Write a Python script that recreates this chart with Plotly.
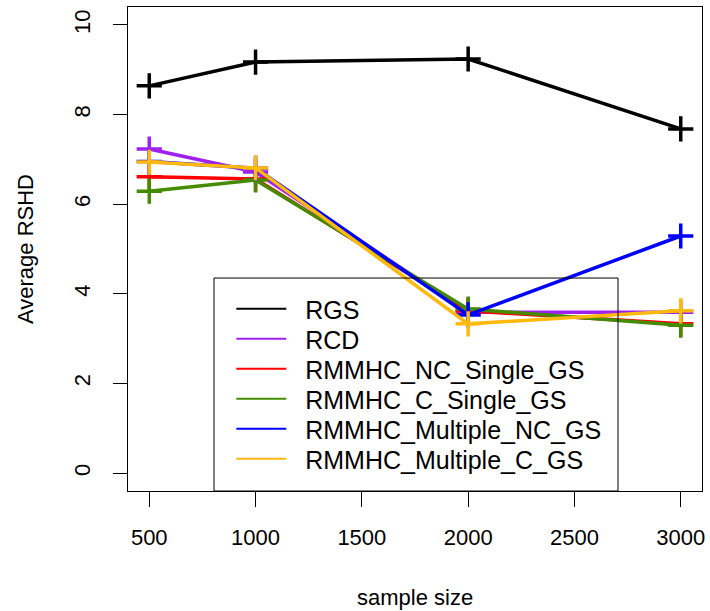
import plotly.graph_objects as go

# sample sizes and average RSHD per method
sample_size = [500, 1000, 2000, 3000]
rgs = [8.64, 9.17, 9.24, 7.68]
rcd = [7.23, 6.72, 3.59, 3.59]
nc_single = [6.61, 6.56, 3.62, 3.33]
c_single = [6.29, 6.54, 3.66, 3.30]
multiple_nc = [6.95, 6.80, 3.53, 5.29]
multiple_c = [6.94, 6.81, 3.33, 3.62]

names = ["RGS", "RCD", "RMMHC_NC_Single_GS", "RMMHC_C_Single_GS",
         "RMMHC_Multiple_NC_GS", "RMMHC_Multiple_C_GS"]
series = [rgs, rcd, nc_single, c_single, multiple_nc, multiple_c]
colors = ["#000000", "#A020F0", "#FF0000", "#458B00", "#0000FF", "#FFB90F"]

x_ticks = [500, 1000, 1500, 2000, 2500, 3000]
y_ticks = [0, 2, 4, 6, 8, 10]

FONT = "Liberation Sans, Arial, Helvetica, sans-serif"
PLOT_L, PLOT_W, PLOT_H = 128, 574, 484  # plot area in px

fig = go.Figure()
legends = {}
for i, (name, ys, col) in enumerate(zip(names, series, colors)):
    lg = "legend" if i == 0 else f"legend{i + 1}"
    # thin copy only feeds the legend key; the thick line sits on top of it
    fig.add_trace(go.Scatter(x=sample_size, y=ys, mode="lines",
                             name="\u00a0\u00a0" + name, legend=lg,
                             line=dict(color=col, width=2)))
    fig.add_trace(go.Scatter(x=sample_size, y=ys, mode="lines", showlegend=False,
                             line=dict(color=col, width=3.5)))
    fig.add_trace(go.Scatter(x=sample_size, y=ys, mode="markers", showlegend=False,
                             marker=dict(symbol="cross-thin", size=18,
                                         line=dict(color=col, width=3.5))))
    # one legend per entry so rows sit 30px apart like R's legend()
    row_y = 309 + 30 * i
    legends[lg] = dict(x=0.18, y=(491 - row_y) / PLOT_H, xanchor="left",
                       yanchor="middle", bgcolor="rgba(0,0,0,0)", borderwidth=0,
                       font=dict(size=25), itemwidth=50)

# legend frame (R-style box reaching down to the axis)
fig.add_shape(type="rect", xref="paper", yref="paper",
              x0=(214 - PLOT_L) / PLOT_W, x1=(618 - PLOT_L) / PLOT_W, y0=0, y1=0.44,
              line=dict(color="black", width=1), layer="above")

fig.add_annotation(text="sample size", xref="paper", yref="paper",
                   x=0.5, y=(491 - 597) / PLOT_H, xanchor="center", yanchor="middle",
                   showarrow=False, font=dict(size=22, color="black"))
fig.add_annotation(text="Average RSHD", xref="paper", yref="paper",
                   x=(25 - PLOT_L) / PLOT_W, y=0.5, xanchor="center", yanchor="middle",
                   showarrow=False, textangle=-90, font=dict(size=22, color="black"))

fig.update_layout(
    width=710, height=611,
    margin=dict(l=PLOT_L, r=8, t=7, b=120, autoexpand=False),
    paper_bgcolor="white", plot_bgcolor="white",
    font=dict(family=FONT, size=22, color="black"),
    showlegend=True,
    xaxis=dict(range=[400, 3100], tickvals=x_ticks, ticks="outside", ticklen=15,
               tickcolor="black", showline=True, linecolor="black", linewidth=1,
               mirror=True, showgrid=False, zeroline=False, ticklabelstandoff=12,
               automargin=False),
    yaxis=dict(range=[-0.4, 10.4], tickvals=y_ticks, ticks="outside", ticklen=14,
               tickcolor="black", showline=True, linecolor="black", linewidth=1,
               mirror=True, showgrid=False, zeroline=False, tickangle=-90,
               ticklabelstandoff=14, automargin=False),
    **legends,
)

# the page's default body margin would shift the 710x611 figure by 8px
fig.write_html("out.html", config={"displayModeBar": False},
               post_script="document.body.style.margin = '0px';")
